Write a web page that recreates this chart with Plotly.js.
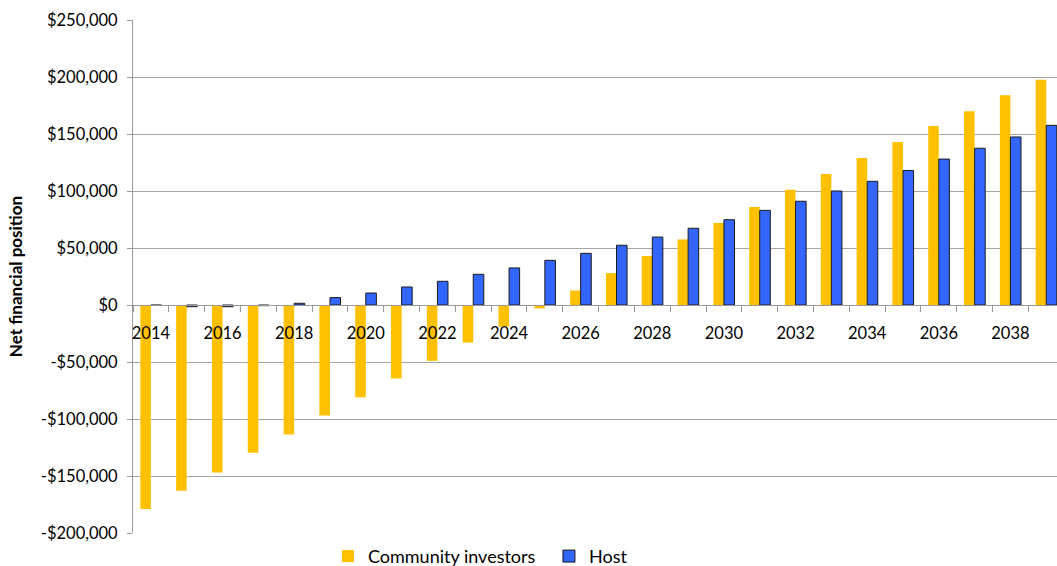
<!DOCTYPE html>
<html>
<head>
<meta charset="utf-8">
<script src="https://cdn.plot.ly/plotly-3.0.1.min.js"></script>
<style>html,body{margin:0;padding:0;background:#fff;}#chart{width:1057px;height:566px;}</style>
</head>
<body>
<div id="chart"></div>
<script>
const years = ["2014","2015","2016","2017","2018","2019","2020","2021","2022","2023","2024","2025","2026","2027","2028","2029","2030","2031","2032","2033","2034","2035","2036","2037","2038","2039"];
const communityInvestors = [-179000,-163000,-147000,-129500,-113500,-97000,-81000,-64500,-49000,-33000,-19000,-3000,12700,28000,43000,57500,72000,86000,101000,115000,129000,143000,157000,170000,184000,197500];
const host = [-300,-1500,-1500,-600,1500,6500,10500,15800,20800,26900,32500,39200,45300,52400,59600,67300,74800,83000,91000,100000,108500,118000,128000,137500,147400,157600];
const yTickVals = [-200000,-150000,-100000,-50000,0,50000,100000,150000,200000,250000];
const yTickText = ["-$200,000","-$150,000","-$100,000","-$50,000","$0","$50,000","$100,000","$150,000","$200,000","$250,000"];
const xTickText = years.map((y,i)=> i%2===0 ? y : "");

const font = "Lato, 'Open Sans', sans-serif";
const data = [
  {type:"bar", name:"Community investors", x:years, y:communityInvestors,
   marker:{color:"#FFC000", line:{width:0}}},
  {type:"bar", name:"Host", x:years, y:host,
   marker:{color:"#3366FF", line:{width:1, color:"#1a1a1a"}}}
];
const layout = {
  width:1057, height:566,
  margin:{l:133, r:0, t:20, b:33, autoexpand:false},
  paper_bgcolor:"#fff", plot_bgcolor:"#fff",
  barmode:"group", bargap:0.41, bargroupgap:0,
  showlegend:true,
  legend:{orientation:"h", xref:"paper", yref:"container", x:0.211, y:0.017, xanchor:"left", yanchor:"middle",
          font:{family:font, size:18, color:"#000"}, traceorder:"normal",
          entrywidth:176, entrywidthmode:"pixels"},
  xaxis:{type:"category", range:[-0.5,25.3], anchor:"free", position:(200000/450000),
         tickmode:"array", tickvals:years, ticktext:xTickText,
         tickson:"boundaries", ticks:"outside", ticklen:6, tickcolor:"#999",
         showline:true, linecolor:"#999", linewidth:1, showgrid:false,
         tickangle:0, ticklabelstandoff:13,
         tickfont:{family:font, size:16.5, color:"#000"}},
  yaxis:{range:[-200000,250000], tickmode:"array", tickvals:yTickVals, ticktext:yTickText,
         ticks:"outside", ticklen:5, tickcolor:"#999",
         showline:true, linecolor:"#999", linewidth:1,
         showgrid:true, gridcolor:"#a6a6a6", gridwidth:1, zeroline:false,
         ticklabelstandoff:6,
         tickfont:{family:font, size:16.5, color:"#000"},
         title:{text:"<b>Net financial position</b>", font:{family:font, size:17, color:"#000"}, standoff:13}}
};
Plotly.newPlot("chart", data, layout, {displayModeBar:false, staticPlot:true});
</script>
</body>
</html>
